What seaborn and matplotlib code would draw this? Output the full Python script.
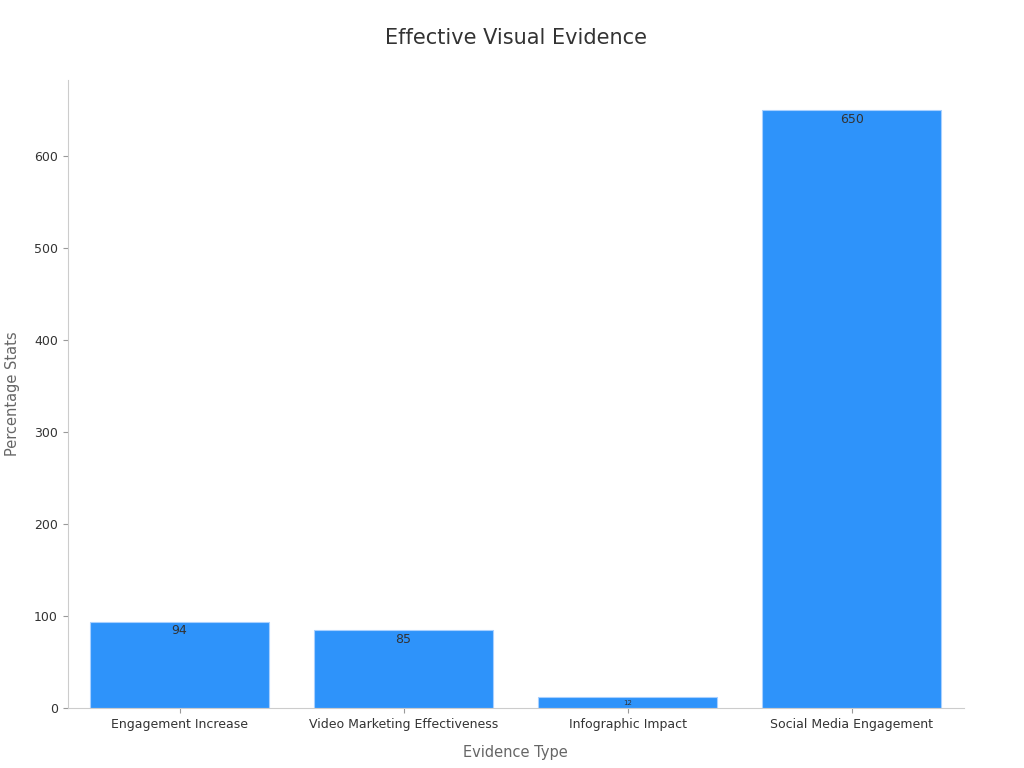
import matplotlib
matplotlib.use("Agg")
import matplotlib.pyplot as plt
import seaborn as sns
import pandas as pd

categories = ["Engagement Increase", "Video Marketing Effectiveness", "Infographic Impact", "Social Media Engagement"]
values = [94, 85, 12, 650]

df = pd.DataFrame({"Evidence Type": categories, "Percentage Stats": values})

fig, ax = plt.subplots(figsize=(10.24, 7.68), dpi=100)
fig.subplots_adjust(left=0.066, right=0.941, top=0.896, bottom=0.078)
sns.barplot(data=df, x="Evidence Type", y="Percentage Stats", color="#2E93FA",
            saturation=1, width=0.8, edgecolor="#a8d0ff", linewidth=0.8, ax=ax)
for i, v in enumerate(values):
    fs = 5 if v < 30 else 9
    ax.text(i, v - 3, str(v), ha="center", va="top", fontsize=fs, color="#333333")
ax.set_title("Effective Visual Evidence", fontsize=15, color="#333333", pad=26)
ax.set_xlabel("Evidence Type", fontsize=10.5, color="#666666", labelpad=10)
ax.set_ylabel("Percentage Stats", fontsize=10.5, color="#666666", labelpad=10)
ax.set_ylim(0, 683)
ax.set_yticks([0, 100, 200, 300, 400, 500, 600])
ax.tick_params(labelsize=9, colors="#333333")
ax.tick_params(color="#999999")
for s in ["top", "right"]:
    ax.spines[s].set_visible(False)
for s in ["left", "bottom"]:
    ax.spines[s].set_color("#cccccc")
fig.savefig("out.png")
